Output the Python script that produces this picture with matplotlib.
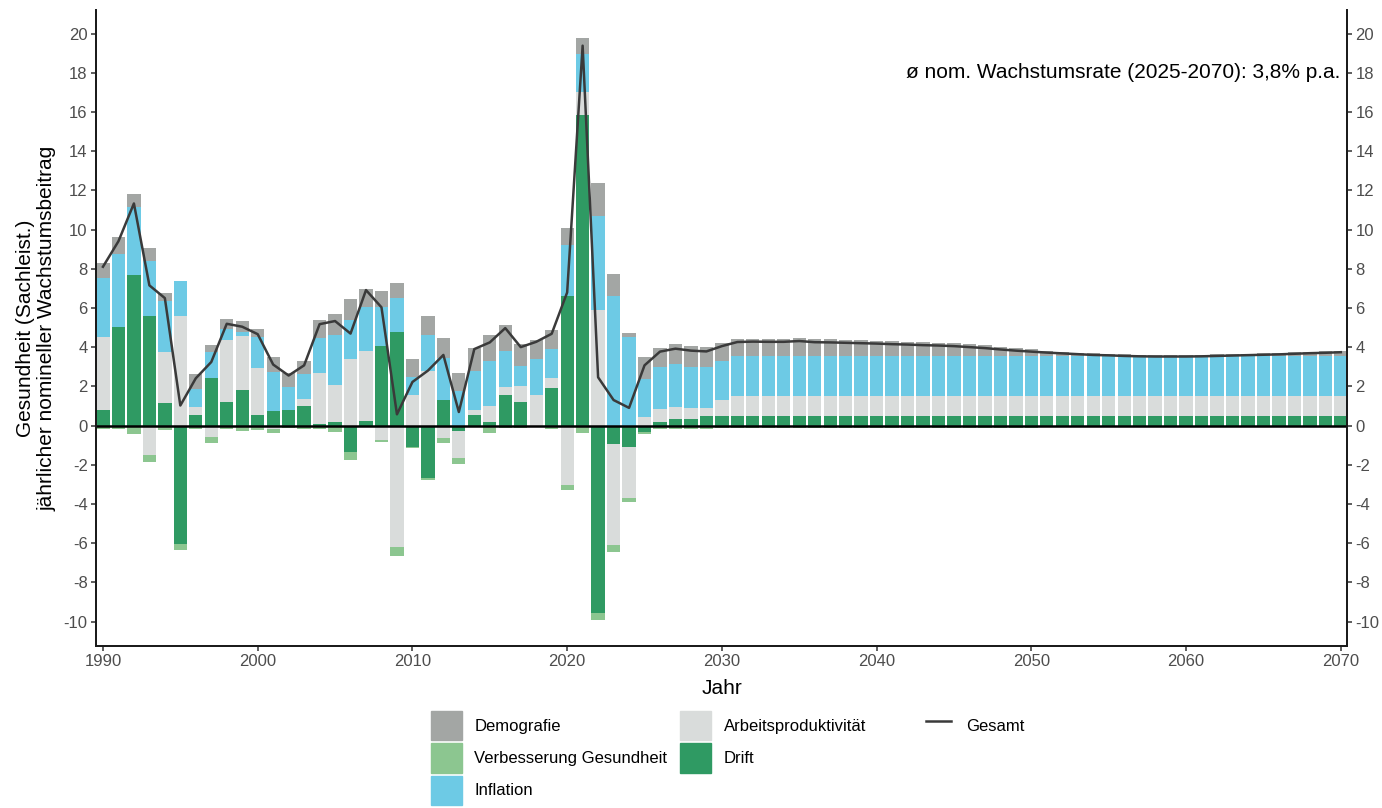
import matplotlib.pyplot as plt
import matplotlib.patches as mpatches
from matplotlib.lines import Line2D
import numpy as np

plt.rcParams['font.family'] = ['Liberation Sans', 'DejaVu Sans']
plt.rcParams['axes.unicode_minus'] = False

years = list(range(1990, 2071))

# contributions (percentage points)
drift = [0.77, 5.03, 7.67, 5.59, 1.16, -6.05, 0.55, 2.42, 1.19, 1.82,
         0.56, 0.72, 0.77, 1.02, 0.08, 0.17, -1.36, 0.22, 4.06, 4.77,
         -1.11, -2.69, 1.30, -0.30, 0.53, 0.16, 1.57, 1.22, 0.00, 1.93,
         6.59, 15.85, -9.55, -0.93, -1.08, -0.31, 0.17, 0.31, 0.31, 0.51,
         0.51, 0.51, 0.51, 0.51, 0.51, 0.51, 0.51, 0.51, 0.51, 0.51,
         0.51, 0.51, 0.51, 0.51, 0.51, 0.51, 0.51, 0.51, 0.51, 0.51,
         0.51, 0.51, 0.51, 0.51, 0.51, 0.51, 0.51, 0.51, 0.51, 0.51,
         0.51, 0.51, 0.51, 0.51, 0.51, 0.51, 0.51, 0.51, 0.51, 0.51,
         0.51]
arbeit = [3.75, 0.00, 0.00, -1.53, 2.59, 5.59, 0.39, -0.60, 3.19, 2.73,
          2.35, -0.20, 0.00, 0.31, 2.61, 1.88, 3.41, 3.58, -0.73, -6.22,
          1.57, 2.78, -0.62, -1.37, 0.26, 0.82, 0.40, 0.78, 1.54, 0.47,
          -3.05, 1.18, 5.90, -5.17, -2.60, 0.43, 0.68, 0.63, 0.58, 0.38,
          0.77, 1.02, 1.02, 1.02, 1.02, 1.02, 1.02, 1.02, 1.02, 1.02,
          1.02, 1.02, 1.02, 1.02, 1.02, 1.02, 1.02, 1.02, 1.02, 1.02,
          1.02, 1.02, 1.02, 1.02, 1.02, 1.02, 1.02, 1.02, 1.02, 1.02,
          1.02, 1.02, 1.02, 1.02, 1.02, 1.02, 1.02, 1.02, 1.02, 1.02,
          1.02]
inflation = [3.02, 3.72, 3.50, 2.80, 2.59, 1.79, 0.94, 1.33, 0.53, 0.22,
             1.60, 2.01, 1.19, 1.28, 1.79, 2.55, 1.99, 2.25, 1.99, 1.76,
             0.93, 1.82, 2.12, 1.77, 2.01, 2.33, 1.81, 1.05, 1.85, 1.50,
             2.62, 1.91, 4.79, 6.63, 4.53, 1.96, 2.13, 2.21, 2.09, 2.09,
             2.01, 2.02, 2.02, 2.02, 2.02, 2.02, 2.02, 2.02, 2.02, 2.02,
             2.02, 2.02, 2.02, 2.02, 2.02, 2.02, 2.02, 2.02, 2.02, 2.02,
             2.02, 2.02, 2.02, 2.02, 2.02, 2.02, 2.02, 2.02, 2.02, 2.02,
             2.02, 2.02, 2.02, 2.02, 2.02, 2.02, 2.02, 2.02, 2.02, 2.02,
             2.02]
demografie = [0.73, 0.88, 0.65, 0.65, 0.43, 0.00, 0.73, 0.38, 0.51, 0.57,
              0.40, 0.77, 0.74, 0.66, 0.89, 1.08, 1.03, 0.91, 0.80, 0.72,
              0.88, 0.98, 1.05, 0.89, 1.18, 1.32, 1.34, 1.10, 0.98, 0.98,
              0.89, 0.84, 1.67, 1.11, 0.19, 1.11, 0.99, 0.99, 1.06, 1.02,
              0.94, 0.86, 0.88, 0.87, 0.87, 0.91, 0.85, 0.84, 0.82, 0.80,
              0.78, 0.75, 0.73, 0.70, 0.68, 0.65, 0.60, 0.55, 0.48, 0.42,
              0.37, 0.25, 0.21, 0.17, 0.13, 0.11, 0.08, 0.06, 0.05, 0.05,
              0.05, 0.06, 0.08, 0.10, 0.12, 0.14, 0.16, 0.19, 0.22, 0.24,
              0.27]
verbesserung = [-0.17, -0.20, -0.45, -0.35, -0.25, -0.31, -0.20, -0.29, -0.20, -0.30,
                -0.25, -0.19, -0.15, -0.20, -0.20, -0.35, -0.38, -0.05, -0.09, -0.46,
                -0.05, -0.09, -0.25, -0.30, -0.10, -0.39, -0.15, -0.15, -0.10, -0.20,
                -0.26, -0.40, -0.35, -0.34, -0.20, -0.12, -0.20, -0.20, -0.20, -0.20,
                -0.15, -0.15, -0.15, -0.15, -0.15, -0.15, -0.15, -0.15, -0.15, -0.15,
                -0.15, -0.15, -0.15, -0.15, -0.15, -0.15, -0.15, -0.15, -0.15, -0.15,
                -0.15, -0.08, -0.08, -0.08, -0.08, -0.08, -0.08, -0.08, -0.08, -0.08,
                -0.08, -0.08, -0.08, -0.08, -0.08, -0.08, -0.08, -0.08, -0.08, -0.08,
                -0.08]
gesamt = [8.10, 9.40, 11.33, 7.15, 6.50, 1.02, 2.41, 3.24, 5.19, 5.04,
          4.66, 3.11, 2.55, 3.07, 5.17, 5.33, 4.69, 6.91, 6.03, 0.57,
          2.22, 2.80, 3.60, 0.69, 3.90, 4.24, 4.97, 4.00, 4.27, 4.68,
          6.79, 19.38, 2.46, 1.30, 0.90, 3.07, 3.77, 3.92, 3.82, 3.78,
          4.05, 4.26, 4.28, 4.27, 4.27, 4.31, 4.25, 4.24, 4.22, 4.20,
          4.18, 4.15, 4.13, 4.10, 4.08, 4.05, 4.00, 3.95, 3.88, 3.82,
          3.77, 3.72, 3.68, 3.64, 3.60, 3.58, 3.55, 3.53, 3.52, 3.52,
          3.52, 3.53, 3.55, 3.57, 3.59, 3.61, 3.63, 3.66, 3.69, 3.71,
          3.74]

labels = ['Demografie', 'Verbesserung Gesundheit', 'Inflation',
          'Arbeitsproduktivität', 'Drift']
colors = {'Demografie': '#A3A6A4', 'Verbesserung Gesundheit': '#8CC690',
          'Inflation': '#6DCAE5', 'Arbeitsproduktivität': '#D9DCDB',
          'Drift': '#2F9A63'}
series = {'Demografie': demografie, 'Verbesserung Gesundheit': verbesserung,
          'Inflation': inflation, 'Arbeitsproduktivität': arbeit, 'Drift': drift}
line_col = '#3A3A3A'

fig = plt.figure(figsize=(13.82, 8.08), dpi=100)
ax = fig.add_axes([96 / 1382, 162 / 808, 1251 / 1382, 636 / 808])

x = np.array(years)
pos_base = np.zeros(len(years))
neg_base = np.zeros(len(years))
# stack from zero outwards: Drift, Arbeitsproduktivitaet, Inflation, Verbesserung, Demografie
for name in labels[::-1]:
    v = np.array(series[name])
    p = np.where(v > 0, v, 0)
    n = np.where(v < 0, v, 0)
    ax.bar(x, p, bottom=pos_base, width=0.86, color=colors[name], linewidth=0)
    ax.bar(x, n, bottom=neg_base, width=0.86, color=colors[name], linewidth=0)
    pos_base += p
    neg_base += n

ax.axhline(0, color='black', lw=1.8, zorder=3)
ax.plot(x, gesamt, color=line_col, lw=1.8, zorder=4)

ax.set_xlim(1989.55, 2070.4)
ax.set_ylim(-11.25, 21.2)
yt = list(range(-10, 21, 2))
ax.set_yticks(yt)
ax.set_xticks(list(range(1990, 2071, 10)))

ax2 = ax.twinx()
ax2.set_ylim(ax.get_ylim())
ax2.set_yticks(yt)

for a in (ax, ax2):
    a.spines['top'].set_visible(False)
    for s in ('left', 'right', 'bottom'):
        a.spines[s].set_linewidth(1.3)
        a.spines[s].set_color('#1a1a1a')
    a.tick_params(labelsize=12, labelcolor='#4D4D4D', length=3.5, width=1.1,
                  color='#333333', pad=2.5)

ax.set_xlabel('Jahr', fontsize=15, labelpad=7)
ax.set_ylabel('Gesundheit (Sachleist.)\njährlicher nomineller Wachstumsbeitrag',
              fontsize=15, labelpad=5, linespacing=1.15)

ax.text(2070.0, 18.0, 'ø nom. Wachstumsrate (2025-2070): 3,8% p.a.',
        ha='right', va='center', fontsize=15, zorder=5)

# legend: bar components in two columns, Gesamt line separately
blank = mpatches.Patch(color='none', label='')
handles = [mpatches.Patch(color=colors[n], label=n) for n in labels] + [blank]
fig.legend(handles=handles, labels=[h.get_label() for h in handles], ncol=2,
           loc='upper left', bbox_to_anchor=(431 / 1382, 1 - 711 / 808),
           frameon=False, fontsize=12, handlelength=1.86, handleheight=2.33,
           labelspacing=0.18, handletextpad=0.75, columnspacing=0.75, borderpad=0,
           borderaxespad=0)
fig.legend(handles=[Line2D([], [], color=line_col, lw=1.8)], labels=['Gesamt'],
           loc='upper left', bbox_to_anchor=(926 / 1382, 1 - 711 / 808),
           frameon=False, fontsize=12, handlelength=1.5, handleheight=2.33,
           handletextpad=0.9, borderpad=0, borderaxespad=0)

fig.savefig('out.png', dpi=100)
